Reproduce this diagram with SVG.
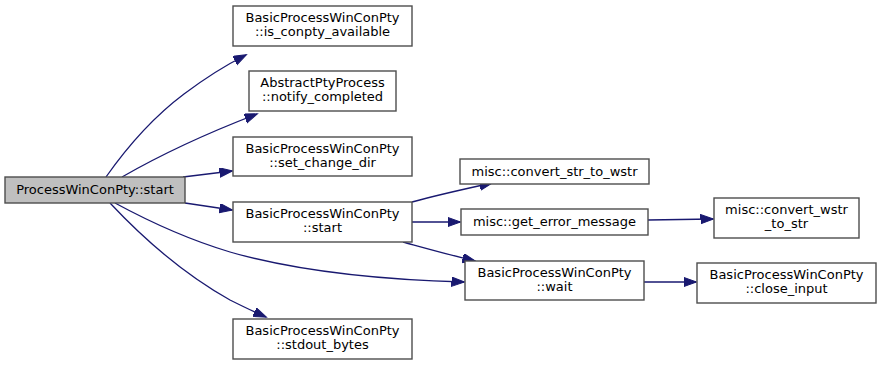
<svg xmlns="http://www.w3.org/2000/svg" width="881" height="365" viewBox="0 0 881 365">
<style>
.n rect{fill:#ffffff;stroke:#4d4d4d;stroke-width:1.4}
.n.main rect{fill:#bfbfbf}
.n text{font-family:"DejaVu Sans",sans-serif;font-size:13px;fill:#000000;text-anchor:middle}
.e path{fill:none;stroke:#191970;stroke-width:1.3}
</style>
<defs>
<marker id="ah" markerUnits="userSpaceOnUse" markerWidth="15" markerHeight="12" refX="12.5" refY="4.7" orient="auto">
<path d="M0,0 L13,4.7 L0,9.4 z" fill="#191970" stroke="#191970" stroke-width="1"/>
</marker>
</defs>
<rect width="881" height="365" fill="#ffffff"/>
<g id="connectors" class="e">
<path d="M106,177 C125,150 152,118 184,94 C204,79 224,66 246,55" marker-end="url(#ah)"/>
<path d="M122,177 C155,158 205,134 257,114" marker-end="url(#ah)"/>
<path d="M183,177 L232,171" marker-end="url(#ah)"/>
<path d="M185,203 L232,210" marker-end="url(#ah)"/>
<path d="M115,203 C150,222 190,240 230,252 C300,272 390,280 464,282" marker-end="url(#ah)"/>
<path d="M110,203 C140,235 180,272 230,300 C240,305 252,311 266,317" marker-end="url(#ah)"/>
<path d="M412,202 C430,197 460,190 492,183" marker-end="url(#ah)"/>
<path d="M412,222 L460,222" marker-end="url(#ah)"/>
<path d="M403,242 C425,248 450,255 475,261" marker-end="url(#ah)"/>
<path d="M648,220 L713,219" marker-end="url(#ah)"/>
<path d="M644,282 L696,282" marker-end="url(#ah)"/>
</g>
<g id="node_main" class="n main"><rect x="5" y="177" width="180" height="26"/><text x="95" y="193.5">ProcessWinConPty::start</text></g>
<g id="node_is_conpty_available" class="n"><rect x="233" y="6" width="179" height="40"/><text x="322.5" y="22">BasicProcessWinConPty</text><text x="322.5" y="36">::is_conpty_available</text></g>
<g id="node_notify_completed" class="n"><rect x="249" y="71" width="147" height="40"/><text x="322.5" y="87">AbstractPtyProcess</text><text x="322.5" y="101">::notify_completed</text></g>
<g id="node_set_change_dir" class="n"><rect x="233" y="137" width="179" height="39"/><text x="322.5" y="153">BasicProcessWinConPty</text><text x="322.5" y="167">::set_change_dir</text></g>
<g id="node_start" class="n"><rect x="233" y="202" width="179" height="40"/><text x="322.5" y="218">BasicProcessWinConPty</text><text x="322.5" y="232">::start</text></g>
<g id="node_stdout_bytes" class="n"><rect x="233" y="319" width="179" height="40"/><text x="322.5" y="335">BasicProcessWinConPty</text><text x="322.5" y="349">::stdout_bytes</text></g>
<g id="node_convert_str_to_wstr" class="n"><rect x="460" y="159" width="189" height="25"/><text x="554.5" y="175.5">misc::convert_str_to_wstr</text></g>
<g id="node_get_error_message" class="n"><rect x="461" y="209" width="187" height="26"/><text x="554.5" y="225.5">misc::get_error_message</text></g>
<g id="node_convert_wstr_to_str" class="n"><rect x="714" y="198" width="145" height="40"/><text x="786.5" y="214">misc::convert_wstr</text><text x="786.5" y="228">_to_str</text></g>
<g id="node_wait" class="n"><rect x="465" y="261" width="179" height="39"/><text x="554.5" y="277">BasicProcessWinConPty</text><text x="554.5" y="291">::wait</text></g>
<g id="node_close_input" class="n"><rect x="697" y="263" width="179" height="40"/><text x="786.5" y="279">BasicProcessWinConPty</text><text x="786.5" y="293">::close_input</text></g>
</svg>
